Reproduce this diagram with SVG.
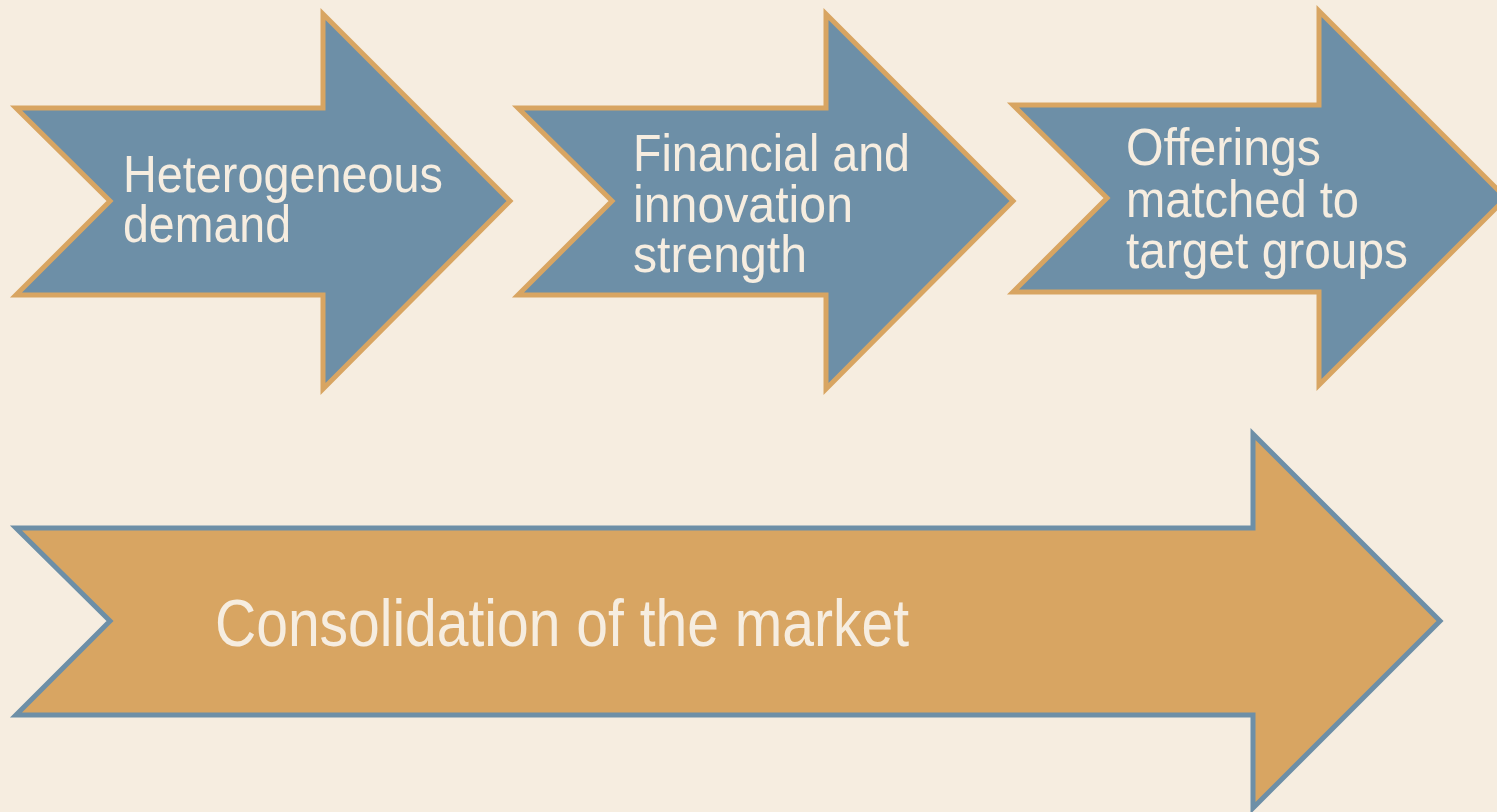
<svg xmlns="http://www.w3.org/2000/svg" width="1497" height="812" viewBox="0 0 1497 812">
  <style>
    .step { fill: #6d8fa7; stroke: #d8a562; stroke-width: 5; stroke-linejoin: miter; stroke-miterlimit: 10; }
    .base { fill: #d8a562; stroke: #6d8fa7; stroke-width: 5; stroke-linejoin: miter; stroke-miterlimit: 10; }
    .lbl { fill: #f6ede0; font-family: "Liberation Sans", Arial, sans-serif; font-size: 52px; }
    .big { font-size: 66px; }
  </style>
  <rect width="1497" height="812" fill="#f6ede0"/>

  <g id="connectors"></g>

  <!-- step 1 -->
  <g id="node-demand">
    <polygon class="step" points="16,108 323,108 323,14 510,201 323,389 323,295 16,295 110,201"/>
    <text class="lbl" x="123" y="192" textLength="320" lengthAdjust="spacingAndGlyphs">Heterogeneous</text>
    <text class="lbl" x="123" y="242" textLength="168" lengthAdjust="spacingAndGlyphs">demand</text>
  </g>

  <!-- step 2 -->
  <g id="node-strength">
    <polygon class="step" points="518,108 826,108 826,14 1013,201 826,389 826,295 518,295 612,201"/>
    <text class="lbl" x="633" y="171" textLength="277" lengthAdjust="spacingAndGlyphs">Financial and</text>
    <text class="lbl" x="633" y="222" textLength="220" lengthAdjust="spacingAndGlyphs">innovation</text>
    <text class="lbl" x="633" y="272" textLength="174" lengthAdjust="spacingAndGlyphs">strength</text>
  </g>

  <!-- step 3 -->
  <g id="node-offerings">
    <polygon class="step" points="1013,105 1319,105 1319,11 1506,198 1319,385 1319,292 1013,292 1107,198"/>
    <text class="lbl" x="1126" y="165" textLength="195" lengthAdjust="spacingAndGlyphs">Offerings</text>
    <text class="lbl" x="1126" y="217" textLength="233" lengthAdjust="spacingAndGlyphs">matched to</text>
    <text class="lbl" x="1126" y="268" textLength="282" lengthAdjust="spacingAndGlyphs">target groups</text>
  </g>

  <!-- long base arrow -->
  <g id="node-consolidation">
    <polygon class="base" points="16,528 1253,528 1253,434 1440,621 1253,808 1253,715 16,715 110,621"/>
    <text class="lbl big" x="215" y="646" textLength="694" lengthAdjust="spacingAndGlyphs">Consolidation of the market</text>
  </g>
</svg>
